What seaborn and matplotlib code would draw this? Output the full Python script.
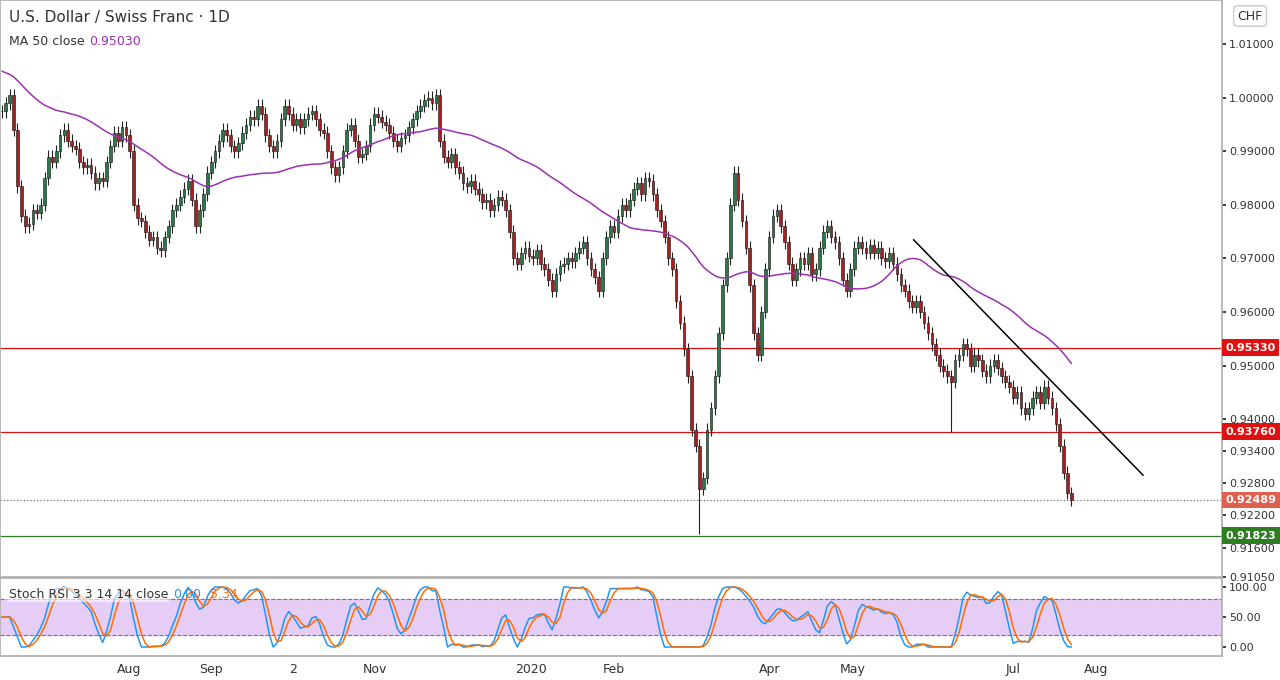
import numpy as np
import pandas as pd
import matplotlib
matplotlib.use("Agg")
import matplotlib.pyplot as plt
import seaborn as sns

sns.set_theme(style="white")
plt.rcParams['font.family'] = ['DejaVu Sans']

# closes before the visible window, only for MA warm-up (x 1e-4)
prior_e4 = [10150, 10160, 10140, 10170, 10180, 10160, 10130, 10150, 10120, 10100,
    10080, 10090, 10060, 10040, 10050, 10020, 10000, 10030, 10010, 9990,
    10000, 10020, 10040, 10060, 10080, 10070, 10090, 10100, 10110, 10090,
    10080, 10060, 10050, 10070, 10040, 10020, 10000, 9980, 9970, 9990,
    10010, 10030, 10020, 10000, 9990, 9980, 9970, 9960, 9975, 9985]
# daily closes (x 1e-4)
closes_e4 = [9975, 9990, 10005, 9940, 9835, 9780, 9760, 9765, 9790, 9785, 9800, 9850, 9890, 9880,
    9900, 9930, 9940, 9920, 9910, 9905, 9880, 9870, 9875, 9860, 9840, 9850, 9845, 9880, 9910, 9935, 9920,
    9945, 9930, 9900, 9800, 9775, 9770, 9750, 9735, 9740, 9720, 9715, 9740, 9760, 9790, 9800, 9815, 9830,
    9845, 9810, 9760, 9790, 9820, 9860, 9880, 9900, 9920, 9940, 9930, 9910, 9900, 9915, 9935, 9950, 9965,
    9960, 9985, 9970, 9930, 9910, 9900, 9920, 9960, 9985, 9970, 9950, 9960, 9945, 9960, 9970, 9975, 9960,
    9940, 9935, 9900, 9870, 9855, 9870, 9900, 9940, 9950, 9920, 9890, 9895, 9910, 9950, 9970, 9965, 9955,
    9950, 9935, 9920, 9910, 9925, 9930, 9945, 9960, 9975, 9985, 9995, 10000, 9990, 10005, 9920, 9890, 9880,
    9895, 9870, 9860, 9840, 9835, 9845, 9830, 9820, 9805, 9810, 9790, 9800, 9815, 9810, 9790, 9750, 9700,
    9690, 9710, 9720, 9705, 9700, 9715, 9690, 9680, 9660, 9640, 9670, 9685, 9690, 9700, 9695, 9710, 9720,
    9730, 9700, 9680, 9665, 9640, 9700, 9740, 9760, 9750, 9780, 9800, 9790, 9810, 9830, 9840, 9820, 9850,
    9845, 9820, 9790, 9770, 9740, 9700,
    9680, 9620, 9580, 9530, 9480, 9380, 9350, 9270, 9290, 9380, 9420, 9480, 9560, 9650, 9700, 9800, 9860,
    9810, 9770, 9720, 9650, 9560, 9520, 9600, 9680, 9740, 9780, 9790, 9760, 9730, 9690, 9660,
    9680, 9700, 9690, 9710, 9670, 9680, 9720, 9750, 9760, 9740, 9730, 9700, 9660, 9640, 9680,
    9720, 9730, 9720, 9710, 9725, 9710, 9720, 9700, 9695, 9710, 9690, 9670, 9650, 9640, 9620, 9610, 9620,
    9600, 9580, 9560, 9540, 9520, 9500, 9490, 9480, 9470, 9510, 9520, 9540, 9530, 9500, 9520, 9510, 9490,
    9480, 9500, 9510, 9495, 9480, 9470, 9460, 9440, 9450, 9420, 9410, 9420, 9440, 9450, 9430, 9460, 9440,
    9420, 9390, 9350, 9300, 9262, 9249]
wick_e4 = 12

month_labels = ["Aug", "Sep", "2", "Nov", "2020", "Feb", "Apr", "May", "Jul", "Aug"]
month_px = [127, 209, 292, 374, 530, 613, 769, 852, 1013, 1096]

levels = [0.95330, 0.93760, 0.91823]
level_colors = ["#e01010", "#e01010", "#2e7d22"]
last_price = 0.92489

close = np.array(closes_e4) / 1e4
openp = np.concatenate([[close[0]], close[:-1]])
high = np.maximum(openp, close) + wick_e4 / 1e4
low = np.minimum(openp, close) - wick_e4 / 1e4
low[list(close).index(0.9270)] = 0.9185
i_w = list(close).index(0.9470)
low[i_w] = 0.9376
N = len(close)
x = np.arange(N)
ppx = 1075 / N
def px2x(p): return p / ppx

full = pd.Series(np.concatenate([np.array(prior_e4) / 1e4, close]))
ma = full.rolling(50).mean().values[len(prior_e4):]

fig = plt.figure(figsize=(12.8, 6.8), dpi=100)
W, H = 1280, 680
ax = fig.add_axes([0, 1 - 577 / H, 1222 / W, 577 / H])
ax2 = fig.add_axes([0, 1 - 656 / H, 1222 / W, 78 / H])

up = close >= openp
green, red = "#2a7a47", "#a81f1f"
ax.vlines(x, low, high, color="#222222", lw=0.8, zorder=2)
ax.bar(x[up], (close - openp)[up], bottom=openp[up], width=0.7, color=green, edgecolor="#111", lw=0.4, zorder=3)
ax.bar(x[~up], (close - openp)[~up], bottom=openp[~up], width=0.7, color=red, edgecolor="#111", lw=0.4, zorder=3)
sns.lineplot(x=x, y=ma, ax=ax, color="#9b30b0", lw=1.1, zorder=4)

for lv, c in zip(levels, level_colors):
    ax.axhline(lv, color=c, lw=0.9, zorder=1)
ax.axhline(last_price, color="#555", lw=0.8, ls=(0, (1, 2)), zorder=1)
ax.plot([px2x(913), px2x(1143)], [0.9735, 0.9295], color="black", lw=1.1, zorder=5)

def p_at(y): return 1.01 - (y - 45) * 0.0001836
ax.set_ylim(p_at(577), p_at(0))
xmax = px2x(1222)
ax.set_xlim(-0.5, xmax)
for a in (ax, ax2):
    a.set_xticks([px2x(p) for p in month_px])
    a.yaxis.tick_right()
    for s in a.spines.values():
        s.set_color("#b0b0b0")
ax.set_xticklabels([])
ax2.set_xticklabels(month_labels, fontsize=9, color="#333")
ax.set_yticks([1.01, 1.0, 0.99, 0.98, 0.97, 0.96, 0.95, 0.94, 0.934, 0.928, 0.922, 0.916, 0.9105])
ax.set_yticklabels([f"{v:.5f}" for v in ax.get_yticks()], fontsize=8, color="#333")
ax.tick_params(axis="both", length=3, pad=2)
ax2.tick_params(axis="both", length=3, pad=2)
for lv, c in zip(levels + [last_price], level_colors + ["#e06050"]):
    ax.text(1.003, lv, f"{lv:.5f}", transform=ax.get_yaxis_transform(), fontsize=8, color="white",
            weight="bold", va="center", ha="left", bbox=dict(fc=c, ec="none", pad=2.5), zorder=10, clip_on=False)

ax.text(0.007, 0.97, "U.S. Dollar / Swiss Franc · 1D", transform=ax.transAxes, fontsize=11, color="#333", va="center")
ax.text(0.007, 0.928, "MA 50 close", transform=ax.transAxes, fontsize=9, color="#333", va="center")
ax.text(0.073, 0.928, "0.95030", transform=ax.transAxes, fontsize=9, color="#9b30b0", va="center")
fig.text(1250 / W, 1 - 16 / H, "CHF", fontsize=9, ha="center", va="center", color="#333",
         bbox=dict(fc="white", ec="#ccc", boxstyle="round,pad=0.3"))

s = pd.Series(close)
d = s.diff()
gain = d.clip(lower=0).ewm(alpha=1 / 14, min_periods=1).mean()
loss = (-d.clip(upper=0)).ewm(alpha=1 / 14, min_periods=1).mean()
rsi = (100 - 100 / (1 + gain / loss.replace(0, np.nan))).fillna(50)
mn = rsi.rolling(14, min_periods=1).min()
mx = rsi.rolling(14, min_periods=1).max()
st = ((rsi - mn) / (mx - mn).replace(0, np.nan) * 100).fillna(50)
k = st.rolling(3, min_periods=1).mean()
dd = k.rolling(3, min_periods=1).mean()
ax2.axhspan(20, 80, color="#e6cdf5", zorder=0)
ax2.axhline(80, color="#777", lw=0.8, ls="--")
ax2.axhline(20, color="#777", lw=0.8, ls="--")
sns.lineplot(x=x, y=k.values, ax=ax2, color="#2196f3", lw=1.1)
sns.lineplot(x=x, y=dd.values, ax=ax2, color="#ff6d00", lw=1.1)
ax2.set_ylim(-15, 115)
ax2.set_xlim(-0.5, xmax)
ax2.set_yticks([0, 50, 100])
ax2.set_yticklabels(["0.00", "50.00", "100.00"], fontsize=8, color="#333")
ax2.text(0.007, 0.79, "Stoch RSI 3 3 14 14 close", transform=ax2.transAxes, fontsize=9, color="#333", va="center",
         bbox=dict(fc="white", ec="none", alpha=0.6, pad=1))
ax2.text(0.142, 0.79, "0.00", transform=ax2.transAxes, fontsize=9, color="#2196f3", va="center")
ax2.text(0.172, 0.79, "5.34", transform=ax2.transAxes, fontsize=9, color="#ff6d00", va="center")

fig.savefig("out.png", dpi=100)
